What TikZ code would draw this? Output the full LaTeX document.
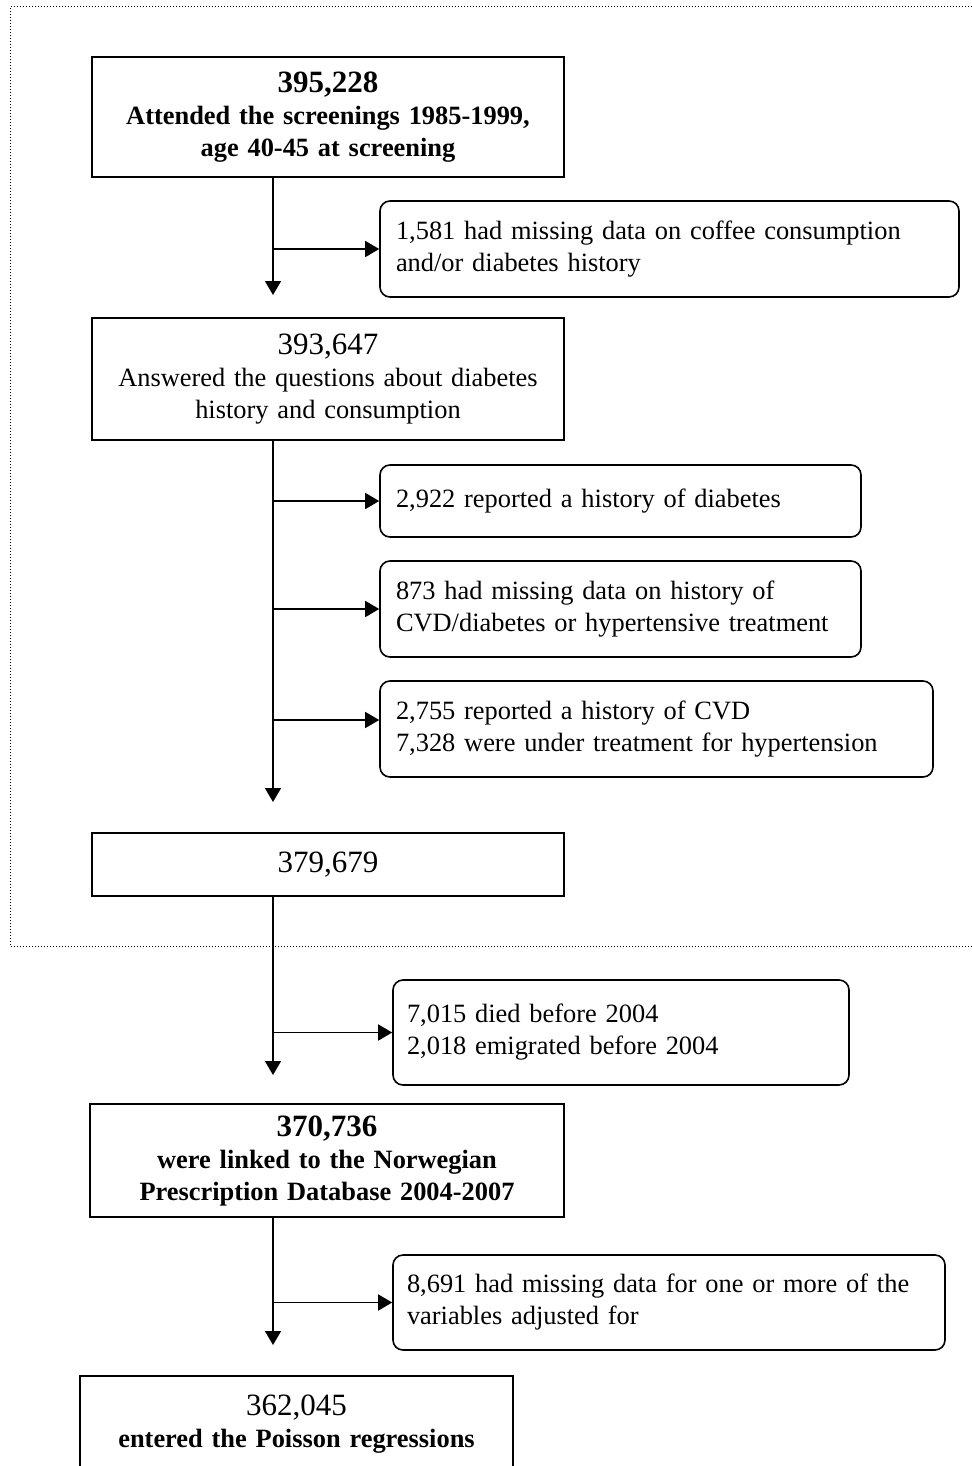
\documentclass[tikz,border=0pt]{standalone}
\usepackage{fontspec}
\setmainfont{Liberation Serif}
\usepackage{xcolor}
\usetikzlibrary{arrows.meta,positioning,calc}
\definecolor{fcink}{HTML}{000000}
\newcommand{\bodysize}{\fontsize{13.2pt}{16pt}\selectfont}
\newcommand{\numsize}{\fontsize{15.5pt}{16pt}\selectfont}
\tikzset{
  countbox/.style={rectangle,draw=fcink,line width=1pt,align=center,
                   inner xsep=6pt,inner ysep=0pt,font=\bodysize,text=fcink},
  exclbox/.style={rectangle,rounded corners=5pt,draw=fcink,line width=0.8pt,
                  align=left,inner xsep=8pt,inner ysep=0pt,font=\bodysize,text=fcink},
  flow/.style={-{Triangle[length=7pt,width=8pt]},line width=0.75pt,draw=fcink},
  outerframe/.style={draw=fcink,line width=0.5pt,dash pattern=on 0.6pt off 0.9pt},
}

\begin{document}
\begin{tikzpicture}[x=0.5pt,y=-0.5pt]
  \useasboundingbox (0,0) rectangle (972,1466);
  % dotted frame round the screening part
  \draw[outerframe] (972,7) -- (10,7) -- (10,946) -- (972,946);
  % counts
  \node[countbox,text width=224pt,minimum height=60pt] (cA) at (328,117)
        {{\numsize\textbf{395,228}}\\\textbf{Attended the screenings 1985-1999,}\\\textbf{age 40-45 at screening}};
  \node[countbox,text width=224pt,minimum height=61pt] (cB) at (328,379)
        {{\numsize 393,647}\\Answered the questions about diabetes\\history and consumption};
  \node[countbox,text width=224pt,minimum height=31.5pt] (cC) at (328,864.5)
        {\numsize 379,679};
  \node[countbox,text width=225pt,minimum height=56.5pt] (cD) at (327,1160.5)
        {{\numsize\textbf{370,736}}\\\textbf{were linked to the Norwegian}\\\textbf{Prescription Database 2004-2007}};
  \node[countbox,text width=204.5pt,minimum height=48pt,anchor=north] (cF) at (296.5,1375)
        {{\numsize 362,045}\\\textbf{entered the Poisson regressions}};
  % exclusions
  \node[exclbox,text width=273.5pt,minimum height=48pt] (eA) at (669.5,249)
        {1,581 had missing data on coffee consumption\\and/or diabetes history};
  \node[exclbox,text width=224.5pt,minimum height=36pt] (eB) at (620.5,501)
        {2,922 reported a history of diabetes};
  \node[exclbox,text width=224.5pt,minimum height=48pt] (eC) at (620.5,609)
        {873 had missing data on history of\\CVD/diabetes or hypertensive treatment};
  \node[exclbox,text width=260.5pt,minimum height=48pt] (eD) at (656.5,729)
        {2,755 reported a history of CVD\\7,328 were under treatment for hypertension};
  \node[exclbox,text width=214pt,inner xsep=7pt,minimum height=52.5pt] (eE) at (621,1032.5)
        {7,015 died before 2004\\2,018 emigrated before 2004};
  \node[exclbox,text width=262pt,inner xsep=7pt,minimum height=47.5pt] (eF) at (669,1302.5)
        {8,691 had missing data for one or more of the\\variables adjusted for};
  % arrow tips of the main line
  \coordinate (tA) at (273,295);
  \coordinate (tB) at (273,802);
  \coordinate (tC) at (273,1075);
  \coordinate (tD) at (273,1345);
  \draw[flow] (cA.south -| tA) -- (tA);
  \draw[flow] (cB.south -| tB) -- (tB);
  \draw[flow] (cC.south -| tC) -- (tC);
  \draw[flow] (cD.south -| tD) -- (tD);
  \draw[flow] (tA |- eA.west) -- (eA.west);
  \draw[flow] (tB |- eB.west) -- (eB.west);
  \draw[flow] (tB |- eC.west) -- (eC.west);
  \draw[flow] ([yshift=4.5pt]tB |- eD.west) -- ([yshift=4.5pt]eD.west);
  \draw[flow] (tC |- eE.west) -- (eE.west);
  \draw[flow] (tD |- eF.west) -- (eF.west);
\end{tikzpicture}
\end{document}
